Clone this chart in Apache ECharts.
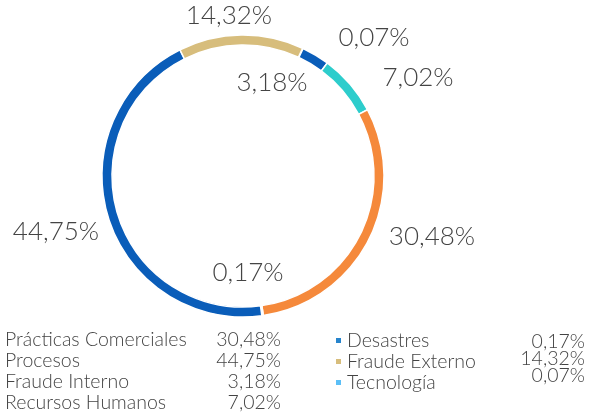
<!DOCTYPE html>
<html>
<head>
<meta charset="utf-8">
<script src="https://cdn.jsdelivr.net/npm/echarts@6/dist/echarts.min.js"></script>
<style>
html,body{margin:0;padding:0;background:#fff;}
#c{width:601px;height:415px;}
</style>
</head>
<body>
<div id="c"></div>
<script>
// Slices in clockwise order, starting at the top-right
const categories = ['Tecnología', 'Fraude Interno', 'Recursos Humanos', 'Prácticas Comerciales', 'Desastres', 'Procesos', 'Fraude Externo'];
const values = [0.07, 3.18, 7.02, 30.48, 0.17, 44.75, 14.32];
const sliceColors = ['#5bbff7', '#0a5db9', '#2dcdcc', '#f5893b', '#2784cc', '#0a5db9', '#d7bd7c'];
const legendLeft = ['Prácticas Comerciales', 'Procesos', 'Fraude Interno', 'Recursos Humanos'];
const legendRight = ['Desastres', 'Fraude Externo', 'Tecnología'];

// label centres (layout only)
const labelPos = {
  'Tecnología': [374, 38],
  'Fraude Interno': [272, 83],
  'Recursos Humanos': [418, 78],
  'Prácticas Comerciales': [432, 237],
  'Desastres': [248, 273],
  'Procesos': [56, 232],
  'Fraude Externo': [229, 16]
};

const fmt = v => v.toFixed(2).replace('.', ',') + '%';
const valueOf = name => values[categories.indexOf(name)];
const FONT = 'Lato';
const TXT = '#444';
const LFS = 19.5;
const txt = (extra) => Object.assign({fontSize: LFS, fontFamily: FONT, fontWeight: 300, color: TXT, lineHeight: 21}, extra || {});

const chart = echarts.init(document.getElementById('c'), null, {renderer: 'canvas'});
chart.setOption({
  animation: false,
  textStyle: {fontFamily: FONT},
  series: [{
    type: 'pie',
    center: [243, 176],
    radius: [131, 141],
    startAngle: 65,
    clockwise: true,
    avoidLabelOverlap: false,
    minAngle: 0,
    data: categories.map((n, i) => ({name: n, value: values[i], itemStyle: {color: sliceColors[i]}})),
    itemStyle: {borderColor: '#fff', borderWidth: 1.5},
    label: {
      show: true,
      position: 'outside',
      formatter: p => fmt(p.value),
      fontFamily: FONT,
      fontWeight: 300,
      fontSize: 26,
      color: TXT
    },
    labelLine: {show: false},
    labelLayout: p => {
      const pos = labelPos[categories[p.dataIndex]];
      return {x: pos[0], y: pos[1], align: 'center', verticalAlign: 'middle'};
    },
    emphasis: {disabled: true}
  }],
  legend: [{
    orient: 'vertical',
    left: 0,
    top: 329,
    padding: 0,
    height: 90,
    itemWidth: 0,
    itemHeight: 0,
    itemGap: 0,
    icon: 'none',
    data: legendLeft,
    selectedMode: false,
    formatter: n => '{n|' + n + '}{v|' + fmt(valueOf(n)) + '}',
    textStyle: txt({rich: {n: txt({width: 206}), v: txt({width: 70, align: 'right'})}})
  }, {
    orient: 'vertical',
    left: 334,
    top: 330,
    padding: 0,
    height: 80,
    itemWidth: 7,
    itemHeight: 7,
    itemGap: 0,
    icon: 'rect',
    data: legendRight.map(n => ({name: n, itemStyle: {color: sliceColors[categories.indexOf(n)]}})),
    selectedMode: false,
    formatter: n => n,
    textStyle: txt()
  }, {
    orient: 'vertical',
    right: 16,
    top: 331,
    padding: 0,
    height: 80,
    itemWidth: 0,
    itemHeight: 0,
    itemGap: -4,
    icon: 'none',
    data: legendRight,
    selectedMode: false,
    formatter: n => '{v|' + fmt(valueOf(n)) + '}',
    textStyle: txt({rich: {v: txt({width: 70, align: 'right'})}})
  }]
});
</script>
</body>
</html>
